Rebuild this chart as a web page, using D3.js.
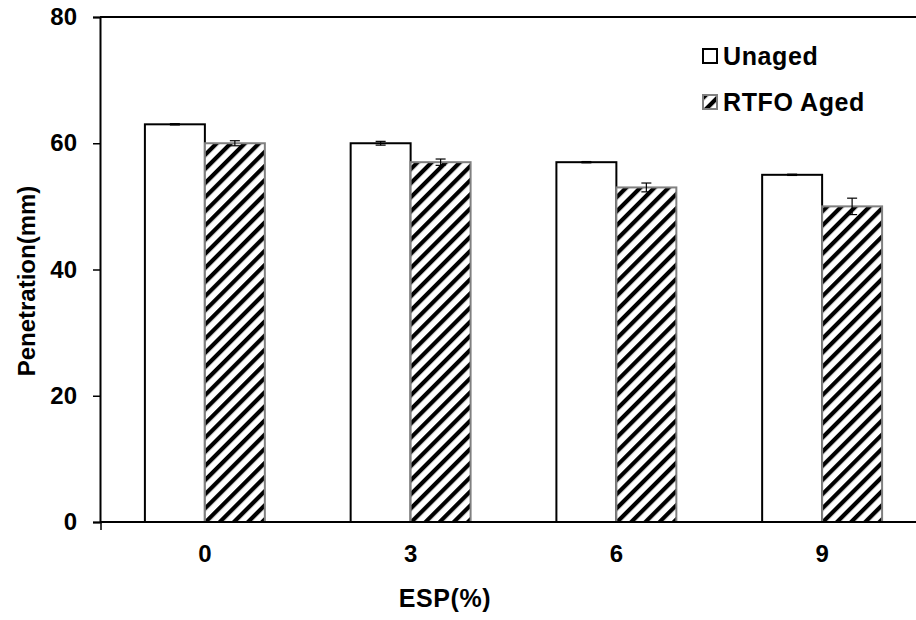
<!DOCTYPE html>
<html>
<head>
<meta charset="utf-8">
<script src="https://cdn.jsdelivr.net/npm/d3@7"></script>
<style>
  html, body { margin: 0; padding: 0; background: #fff; }
  text { font-family: "Liberation Sans", Arial, sans-serif; font-weight: bold; fill: #000; }
</style>
</head>
<body>
<svg id="chart" width="916" height="620"></svg>
<script>
// ESP content categories and penetration values (0.1 mm)
const categories = ["0", "3", "6", "9"];
const seriesNames = ["Unaged", "RTFO Aged"];
const unaged = [63, 60, 57, 55];
const rtfoAged = [60, 57, 53, 50];
const unagedErr = [0.1, 0.3, 0.1, 0.1];
const rtfoErr = [0.4, 0.5, 0.7, 1.3];
const yTicks = [0, 20, 40, 60, 80];

const svg = d3.select("#chart");
const plotLeft = 100, plotTop = 17, plotBottom = 522, plotRight = 925;
const font = "Liberation Sans, Arial, sans-serif";

const x = d3.scaleBand().domain(categories).range([plotLeft + 2, plotRight]).paddingInner(0.417).paddingOuter(0.2085);
const xs = d3.scaleBand().domain(seriesNames).range([0, x.bandwidth()]);
const y = d3.scaleLinear().domain([0, 80]).range([plotBottom, plotTop]);

// diagonal hatch fill for the aged series
const defs = svg.append("defs");
const pat = defs.append("pattern")
  .attr("id", "hatch").attr("patternUnits", "userSpaceOnUse")
  .attr("width", 10).attr("height", 10)
  .attr("patternTransform", "rotate(45)");
pat.append("rect").attr("width", 10).attr("height", 10).attr("fill", "#fff");
pat.append("rect").attr("x", 0).attr("y", 0).attr("width", 4.2).attr("height", 10).attr("fill", "#000");

const rows = categories.map((c, i) => ({
  cat: c,
  vals: [
    { s: "Unaged", v: unaged[i], e: unagedErr[i] },
    { s: "RTFO Aged", v: rtfoAged[i], e: rtfoErr[i] }
  ]
}));

const g = svg.append("g");
const groups = g.selectAll("g.cat").data(rows).join("g")
  .attr("transform", d => `translate(${x(d.cat)},0)`);

groups.selectAll("rect").data(d => d.vals).join("rect")
  .attr("x", d => xs(d.s))
  .attr("y", d => y(d.v))
  .attr("width", xs.bandwidth())
  .attr("height", d => y(0) - y(d.v))
  .attr("fill", d => d.s === "Unaged" ? "#fff" : "url(#hatch)")
  .attr("stroke", d => d.s === "Unaged" ? "#000" : "#808080")
  .attr("stroke-width", 2);

// error bars
const eb = groups.selectAll("g.err").data(d => d.vals).join("g").attr("class", "err");
eb.append("line")
  .attr("x1", d => xs(d.s) + xs.bandwidth() / 2).attr("x2", d => xs(d.s) + xs.bandwidth() / 2)
  .attr("y1", d => y(d.v + d.e)).attr("y2", d => y(d.v - d.e))
  .attr("stroke", "#000").attr("stroke-width", 1.2);
eb.selectAll("line.cap").data(d => [{ d, v: d.v + d.e }, { d, v: d.v - d.e }]).join("line")
  .attr("class", "cap")
  .attr("x1", p => xs(p.d.s) + xs.bandwidth() / 2 - 5).attr("x2", p => xs(p.d.s) + xs.bandwidth() / 2 + 5)
  .attr("y1", p => y(p.v)).attr("y2", p => y(p.v))
  .attr("stroke", "#000").attr("stroke-width", 1.2);

// frame: top border, left axis, bottom axis
svg.append("line").attr("x1", plotLeft).attr("x2", 916).attr("y1", plotTop).attr("y2", plotTop)
  .attr("stroke", "#000").attr("stroke-width", 2);

const yAxis = svg.append("g").attr("transform", `translate(${plotLeft},0)`)
  .call(d3.axisLeft(y).tickValues(yTicks).tickSize(7).tickPadding(16).tickFormat(d3.format("d")));
yAxis.select(".domain").attr("stroke", "#000").attr("stroke-width", 2);
yAxis.selectAll(".tick line").attr("stroke", "#000").attr("stroke-width", 1.5);
yAxis.selectAll("text").style("font-size", "24px").style("font-family", font).style("font-weight", "bold");

const xAxis = svg.append("g").attr("transform", `translate(0,${plotBottom})`)
  .call(d3.axisBottom(x).tickSize(0).tickPadding(23));
xAxis.select(".domain").attr("d", `M${plotLeft},0H916`).attr("stroke", "#000").attr("stroke-width", 2);
xAxis.selectAll("text").style("font-size", "24px").style("font-family", font).style("font-weight", "bold");
svg.append("line").attr("x1", plotLeft + 1).attr("x2", plotLeft + 1).attr("y1", plotBottom).attr("y2", plotBottom + 8)
  .attr("stroke", "#000").attr("stroke-width", 1.5);

// axis titles
svg.append("text").attr("x", 445).attr("y", 607).attr("text-anchor", "middle")
  .style("font-size", "25px").style("letter-spacing", "0.6px").text("ESP(%)");
svg.append("text").attr("transform", "translate(35,281) rotate(-90)").attr("text-anchor", "middle")
  .style("font-size", "24px").text("Penetration(mm)");

// legend
const legend = svg.append("g").attr("transform", "translate(703,49)");
const li = legend.selectAll("g").data(seriesNames).join("g")
  .attr("transform", (d, i) => `translate(0,${i * 46})`);
li.append("rect").attr("x", 0).attr("y", 0).attr("width", 14).attr("height", 14)
  .attr("fill", d => d === "Unaged" ? "#fff" : "url(#hatch)")
  .attr("stroke", d => d === "Unaged" ? "#000" : "#808080").attr("stroke-width", 2);
li.append("text").attr("x", 20).attr("y", 16).style("font-size", "25px").style("letter-spacing", "0.6px").text(d => d);
</script>
</body>
</html>
